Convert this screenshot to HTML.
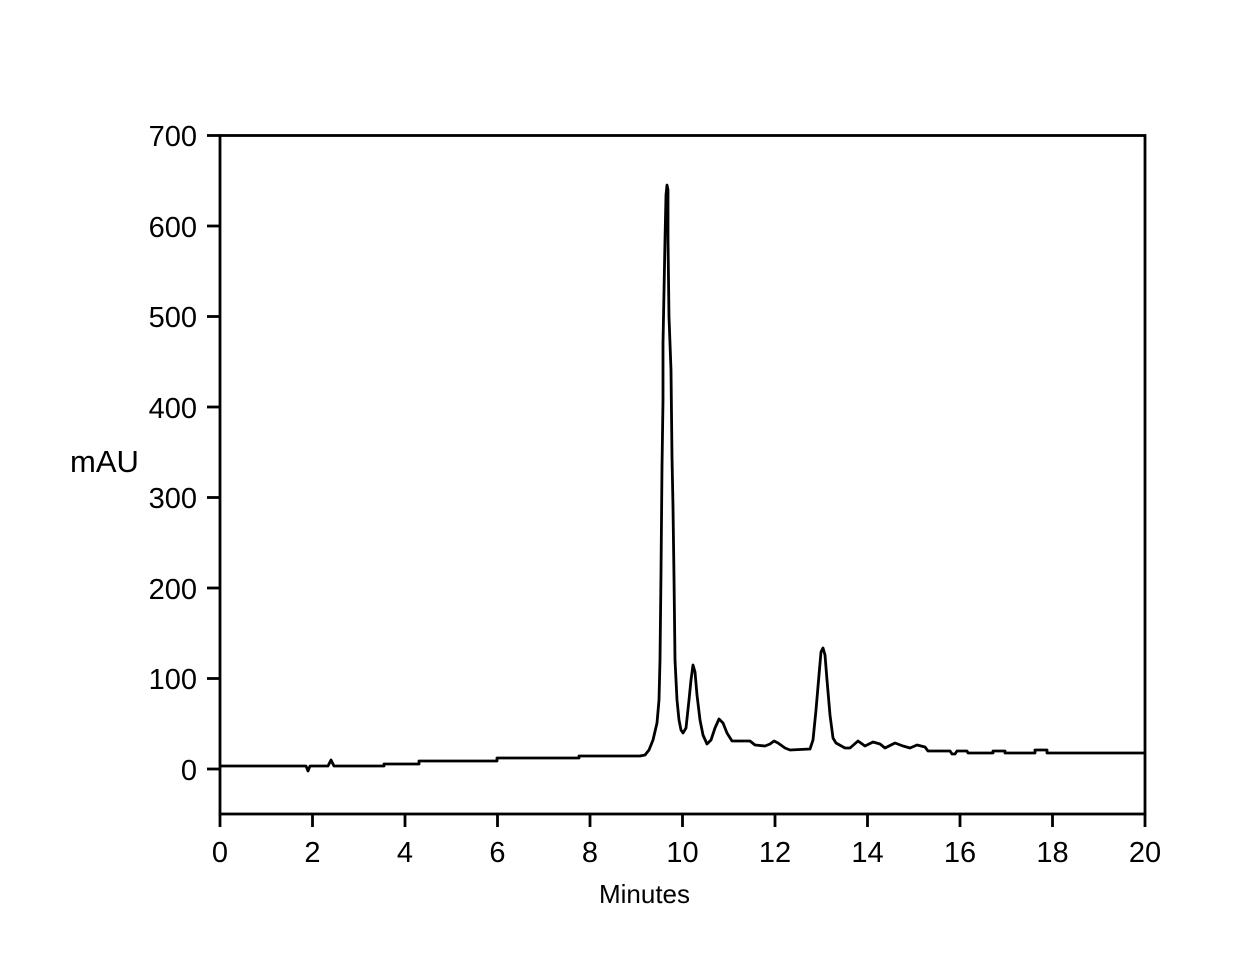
<!DOCTYPE html>
<html>
<head>
<meta charset="utf-8">
<style>
  html,body{margin:0;padding:0;background:#fff;}
  svg{display:block;}
  text{font-family:"Liberation Sans",Arial,sans-serif;fill:#000;}
</style>
</head>
<body>
<svg width="1234" height="980" viewBox="0 0 1234 980" xmlns="http://www.w3.org/2000/svg">
  <rect x="0" y="0" width="1234" height="980" fill="#fff"/>
  <!-- frame -->
  <rect x="220" y="135.5" width="925" height="678.5" fill="none" stroke="#000" stroke-width="2.8"/>
  <!-- y ticks -->
  <g stroke="#000" stroke-width="2.8">
    <line x1="207" y1="135.5" x2="220" y2="135.5"/>
    <line x1="207" y1="226" x2="220" y2="226"/>
    <line x1="207" y1="316.5" x2="220" y2="316.5"/>
    <line x1="207" y1="407" x2="220" y2="407"/>
    <line x1="207" y1="497.5" x2="220" y2="497.5"/>
    <line x1="207" y1="588" x2="220" y2="588"/>
    <line x1="207" y1="678.5" x2="220" y2="678.5"/>
    <line x1="207" y1="769" x2="220" y2="769"/>
  </g>
  <g font-size="29" text-anchor="end">
    <text x="197" y="146">700</text>
    <text x="197" y="237">600</text>
    <text x="197" y="327">500</text>
    <text x="197" y="418">400</text>
    <text x="197" y="508">300</text>
    <text x="197" y="599">200</text>
    <text x="197" y="689">100</text>
    <text x="197" y="780">0</text>
  </g>
  <!-- x ticks -->
  <g stroke="#000" stroke-width="2.8">
    <line x1="220" y1="814" x2="220" y2="827"/>
    <line x1="312.5" y1="814" x2="312.5" y2="827"/>
    <line x1="405" y1="814" x2="405" y2="827"/>
    <line x1="497.5" y1="814" x2="497.5" y2="827"/>
    <line x1="590" y1="814" x2="590" y2="827"/>
    <line x1="682.5" y1="814" x2="682.5" y2="827"/>
    <line x1="775" y1="814" x2="775" y2="827"/>
    <line x1="867.5" y1="814" x2="867.5" y2="827"/>
    <line x1="960" y1="814" x2="960" y2="827"/>
    <line x1="1052.5" y1="814" x2="1052.5" y2="827"/>
    <line x1="1145" y1="814" x2="1145" y2="827"/>
  </g>
  <g font-size="29" text-anchor="middle">
    <text x="220" y="862">0</text>
    <text x="312.5" y="862">2</text>
    <text x="405" y="862">4</text>
    <text x="497.5" y="862">6</text>
    <text x="590" y="862">8</text>
    <text x="682.5" y="862">10</text>
    <text x="775" y="862">12</text>
    <text x="867.5" y="862">14</text>
    <text x="960" y="862">16</text>
    <text x="1052.5" y="862">18</text>
    <text x="1145" y="862">20</text>
  </g>
  <text x="644.5" y="903" font-size="26" text-anchor="middle">Minutes</text>
  <text x="70" y="472" font-size="31">mAU</text>
  <!-- trace -->
  <polyline fill="none" stroke="#000" stroke-width="2.8" stroke-linejoin="round" points="
220,766 306,766 308,771 310,766 328,766 331,760 334,766 384,766 384,764 419,764 419,761 497,761 497,758 579,758 579,756 640,756 645,755 649,750 653,740 657,723 659,700 660,660 661,573 662,467 663,400 663,343 665,240 666,195 667,185 668,190 668,240 669,317 671,370 672,457 673,507 674,577 675,660 677,700 679,720 681,730 683,733 686,728 689,700 691,680 693,665 695,672 697,695 700,720 703,735 707,744 711,740 715,728 719,719 723,723 727,733 732,741 750,741 755,745 765,746 770,744 774,741 778,743 785,748 790,750 810,749 813,740 816,710 819,675 821,652 823,648 825,655 827,680 830,715 833,738 836,743 845,748 850,748 858,741 865,746 873,742 880,744 885,748 895,743 903,746 910,748 917,745 925,747 928,751 950,751 952,754 955,754 957,751 967,751 968,753 993,753 993,751 1005,751 1005,753 1035,753 1035,750 1047,750 1047,753 1145,753"/>
</svg>
</body>
</html>
